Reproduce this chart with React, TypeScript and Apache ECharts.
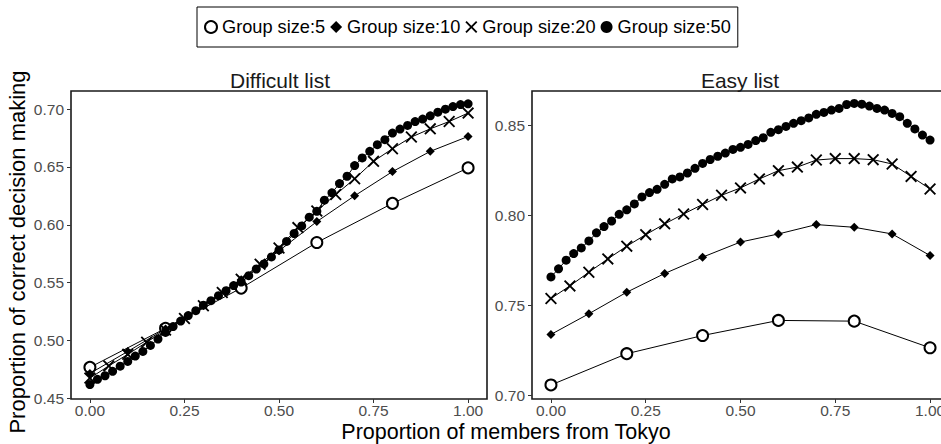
import React, { useEffect, useRef } from "react";
import * as echarts from "echarts";

const seriesNames = ["Group size:5", "Group size:10", "Group size:20", "Group size:50"];
const panelTitles = ["Difficult list", "Easy list"];
const xTicks = [0, 0.25, 0.5, 0.75, 1.0];
const yTicksDifficult = [0.45, 0.5, 0.55, 0.6, 0.65, 0.7];
const yTicksEasy = [0.7, 0.75, 0.8, 0.85];

const xs5 = [0, 0.2, 0.4, 0.6, 0.8, 1.0];
const xs10 = [0, 0.1, 0.2, 0.3, 0.4, 0.5, 0.6, 0.7, 0.8, 0.9, 1.0];
const xs20 = [0, 0.05, 0.1, 0.15, 0.2, 0.25, 0.3, 0.35, 0.4, 0.45, 0.5, 0.55, 0.6, 0.65, 0.7, 0.75, 0.8, 0.85, 0.9, 0.95, 1.0];
const xs50 = [0, 0.02, 0.04, 0.06, 0.08, 0.1, 0.12, 0.14, 0.16, 0.18, 0.2, 0.22, 0.24, 0.26, 0.28, 0.3, 0.32, 0.34, 0.36, 0.38, 0.4, 0.42, 0.44, 0.46, 0.48, 0.5, 0.52, 0.54, 0.56, 0.58, 0.6, 0.62, 0.64, 0.66, 0.68, 0.7, 0.72, 0.74, 0.76, 0.78, 0.8, 0.82, 0.84, 0.86, 0.88, 0.9, 0.92, 0.94, 0.96, 0.98, 1.0];

const difficult5 = [0.4768, 0.5105, 0.5453, 0.5847, 0.6185, 0.6492];
const difficult10 = [0.4715, 0.4905, 0.51, 0.5302, 0.5525, 0.5775, 0.6028, 0.6251, 0.646, 0.6635, 0.6764];
const difficult20 = [0.4675, 0.478, 0.488, 0.4985, 0.509, 0.519, 0.53, 0.5415, 0.553, 0.566, 0.58, 0.5976, 0.6119, 0.6262, 0.6398, 0.6549, 0.6658, 0.6759, 0.683, 0.6893, 0.6966];
const difficult50 = [0.4619, 0.4664, 0.4695, 0.4733, 0.4778, 0.4819, 0.4865, 0.4905, 0.4957, 0.5012, 0.507, 0.512, 0.5168, 0.5215, 0.5258, 0.5305, 0.5344, 0.5387, 0.543, 0.5475, 0.5505, 0.556, 0.5618, 0.5662, 0.5722, 0.5783, 0.5856, 0.5925, 0.599, 0.6066, 0.6117, 0.6213, 0.6277, 0.6357, 0.642, 0.6512, 0.6578, 0.6635, 0.6693, 0.6736, 0.6793, 0.6828, 0.6859, 0.6893, 0.6914, 0.6942, 0.6974, 0.7, 0.7022, 0.704, 0.7046];

const easy5 = [0.7058, 0.7232, 0.7333, 0.7417, 0.7413, 0.7265];
const easy10 = [0.7339, 0.7454, 0.7574, 0.7678, 0.7769, 0.7853, 0.7898, 0.795, 0.7935, 0.7898, 0.7778];
const easy20 = [0.7539, 0.7609, 0.7685, 0.7759, 0.783, 0.7894, 0.7954, 0.8009, 0.8062, 0.8113, 0.8154, 0.8204, 0.825, 0.827, 0.8309, 0.8317, 0.8317, 0.8311, 0.8287, 0.8218, 0.8148];
const easy50 = [0.7659, 0.7704, 0.7752, 0.7789, 0.782, 0.7859, 0.7904, 0.7939, 0.797, 0.8007, 0.8032, 0.8065, 0.8104, 0.8128, 0.8146, 0.8174, 0.8204, 0.8215, 0.8237, 0.8263, 0.829, 0.8312, 0.833, 0.8348, 0.8368, 0.838, 0.8396, 0.8417, 0.8433, 0.8463, 0.8478, 0.8496, 0.8513, 0.8528, 0.8543, 0.8563, 0.8574, 0.8587, 0.8596, 0.8618, 0.8624, 0.862, 0.8609, 0.8596, 0.8587, 0.8568, 0.855, 0.8513, 0.8482, 0.8448, 0.842];

const FONT = "'Liberation Sans', Arial, sans-serif";
const CROSS = "path://M0,11L11,0L50,39L89,0L100,11L61,50L100,89L89,100L50,61L11,100L0,89L39,50Z";

const symbols = ["emptyCircle", "diamond", CROSS, "circle"];
const symbolSizes = [11, 9, 12, 9];

function zip(xs: number[], ys: number[]) {
  return xs.map((x, i) => [x, ys[i]]);
}

export default function App() {
  const ref = useRef<HTMLDivElement>(null);
  useEffect(() => {
    if (!ref.current) return;
    const chart = echarts.init(ref.current, null, { renderer: "svg" });

    const panels = [
      [zip(xs5, difficult5), zip(xs10, difficult10), zip(xs20, difficult20), zip(xs50, difficult50)],
      [zip(xs5, easy5), zip(xs10, easy10), zip(xs20, easy20), zip(xs50, easy50)],
    ];

    const series: any[] = [];
    panels.forEach((panel, p) => {
      panel.forEach((data, s) => {
        series.push({
          type: "line",
          name: seriesNames[s],
          xAxisIndex: p,
          yAxisIndex: p,
          data,
          symbol: symbols[s],
          symbolSize: symbolSizes[s],
          showAllSymbol: true,
          lineStyle: { color: "#000", width: 1 },
          itemStyle: { color: "#000", borderColor: "#000", borderWidth: s === 0 ? 1.8 : 0 },
          emphasis: { disabled: true },
          z: 2 + s,
        });
      });
    });

    const tickStyle = { length: 4, lineStyle: { color: "#333", width: 1 } };
    const labelStyle = { color: "#4d4d4d", fontSize: 15.5, fontFamily: FONT };

    const xAxisCommon = (grid: number) => ({
      type: "value",
      gridIndex: grid,
      min: -0.05,
      max: 1.05,
      splitLine: { show: false },
      axisLine: { show: false, onZero: false },
      axisTick: { show: true, customValues: xTicks, ...tickStyle },
      axisLabel: {
        customValues: xTicks,
        formatter: (v: number) => v.toFixed(2),
        ...labelStyle,
        margin: 3,
      },
    });

    const yAxisCommon = (grid: number, min: number, max: number, ticks: number[]) => ({
      type: "value",
      gridIndex: grid,
      min,
      max,
      splitLine: { show: false },
      axisLine: { show: false, onZero: false },
      axisTick: { show: true, customValues: ticks, ...tickStyle },
      axisLabel: {
        customValues: ticks,
        formatter: (v: number) => v.toFixed(2),
        ...labelStyle,
        margin: 7,
      },
    });

    const option: any = {
      animation: false,
      backgroundColor: "#fff",
      textStyle: { fontFamily: FONT },
      grid: [
        { left: 71, top: 91, width: 416, height: 308, show: true, borderColor: "#1a1a1a", borderWidth: 1.6, backgroundColor: "transparent", outerBoundsMode: "none", containLabel: false },
        { left: 532, top: 91, width: 417, height: 308, show: true, borderColor: "#1a1a1a", borderWidth: 1.6, backgroundColor: "transparent", outerBoundsMode: "none", containLabel: false },
      ],
      xAxis: [xAxisCommon(0), xAxisCommon(1)],
      yAxis: [
        yAxisCommon(0, 0.4494, 0.7157, yTicksDifficult),
        yAxisCommon(1, 0.698, 0.8693, yTicksEasy),
      ],
      legend: {
        left: 197,
        top: 7,
        orient: "horizontal",
        borderColor: "#000",
        borderWidth: 1,
        padding: [11, 7, 11, 7],
        itemGap: 5,
        itemWidth: 12,
        itemHeight: 12,
        selectedMode: false,
        textStyle: { fontSize: 18.2, color: "#000", fontFamily: FONT },
        data: seriesNames.map((n, i) => ({
          name: n,
          icon: symbols[i],
          itemStyle: { color: "#000", borderColor: "#000", borderWidth: i === 0 ? 1.8 : 0 },
        })),
      },
      graphic: [
        { type: "text", x: 280, y: 80, style: { text: panelTitles[0], fontSize: 21, fill: "#1a1a1a", fontFamily: FONT, textAlign: "center", textVerticalAlign: "middle" } },
        { type: "text", x: 740, y: 80, style: { text: panelTitles[1], fontSize: 21, fill: "#1a1a1a", fontFamily: FONT, textAlign: "center", textVerticalAlign: "middle" } },
        { type: "text", x: 506, y: 432, style: { text: "Proportion of members from Tokyo", fontSize: 21.5, fill: "#000", fontFamily: FONT, textAlign: "center", textVerticalAlign: "middle" } },
        { type: "text", x: 17, y: 252, rotation: Math.PI / 2, style: { text: "Proportion of correct decision making", fontSize: 22, fill: "#000", fontFamily: FONT, textAlign: "center", textVerticalAlign: "middle" } },
      ],
      series,
    };

    chart.setOption(option);
    return () => chart.dispose();
  }, []);

  return (
    <div
      ref={ref}
      style={{ position: "absolute", left: 0, top: 0, width: 941, height: 444, background: "#fff" }}
    />
  );
}
